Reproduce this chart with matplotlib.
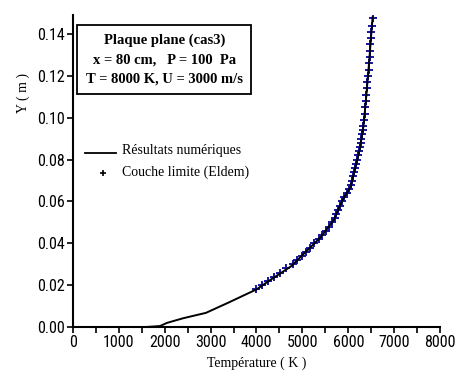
import matplotlib
matplotlib.use("Agg")
import matplotlib.pyplot as plt
from matplotlib.ticker import MultipleLocator

# Numerical results (black line)
num_T = [1574, 1900, 2050, 2400, 2900, 3400, 4000, 4300, 4750, 5100, 5400,
         5680, 5870, 6050, 6150, 6250, 6330, 6390, 6455, 6500, 6530]
num_Y = [0.0, 0.0005, 0.002, 0.0042, 0.0068, 0.0118, 0.018, 0.0225, 0.029,
         0.0365, 0.043, 0.051, 0.0605, 0.067, 0.076, 0.085, 0.096, 0.110,
         0.127, 0.140, 0.148]

# Boundary layer (Eldem) points
eld_T = [4000, 4120, 4250, 4380, 4520, 4650, 4800, 4890, 4985, 5075, 5160,
         5260, 5355, 5435, 5505, 5575, 5645, 5700, 5740, 5780, 5820, 5860,
         5905, 5965, 6020, 6065, 6085, 6105, 6130, 6150, 6172, 6195, 6217,
         6240, 6260, 6275, 6287, 6300, 6316, 6330, 6343, 6356, 6369, 6381,
         6394, 6405, 6417, 6428, 6440, 6451, 6462, 6472, 6483, 6493, 6503,
         6515, 6530]
eld_Y = [0.018, 0.020, 0.022, 0.024, 0.026, 0.028, 0.030, 0.032, 0.034,
         0.036, 0.038, 0.040, 0.042, 0.044, 0.046, 0.048, 0.050, 0.052,
         0.054, 0.056, 0.058, 0.060, 0.062, 0.064, 0.066, 0.068, 0.070,
         0.072, 0.074, 0.076, 0.078, 0.080, 0.082, 0.084, 0.086, 0.088,
         0.090, 0.092, 0.094, 0.096, 0.099, 0.102, 0.105, 0.108, 0.111,
         0.114, 0.117, 0.120, 0.123, 0.126, 0.129, 0.132, 0.135, 0.138,
         0.141, 0.144, 0.1475]

x_ticks = [0, 1000, 2000, 3000, 4000, 5000, 6000, 7000, 8000]
y_ticks = [0.00, 0.02, 0.04, 0.06, 0.08, 0.10, 0.12, 0.14]

serif = ['Liberation Serif', 'DejaVu Serif']
narrow = ['Roboto Condensed', 'Liberation Sans Narrow', 'Roboto']

fig = plt.figure(figsize=(4.58, 3.79), dpi=100)
ax = fig.add_axes([0.159, 0.137, 0.802, 0.823])

ax.plot(eld_T, eld_Y, linestyle='none', marker='+', markersize=6,
        markeredgewidth=1.4, color='#1414a0', zorder=2)
ax.plot(num_T, num_Y, color='black', linewidth=1.4, zorder=3)

ax.set_xlim(0, 8000)
ax.set_ylim(0, 0.149)
ax.set_xticks(x_ticks)
ax.set_yticks(y_ticks)
ax.xaxis.set_minor_locator(MultipleLocator(500))
ax.set_xticklabels([str(v) for v in x_ticks], family=narrow, fontsize=11.5)
ax.set_yticklabels([f"{v:.2f}" for v in y_ticks], family=narrow, fontsize=11.5)
ax.tick_params(axis='both', which='both', direction='out', length=4, width=1.2, pad=1.5)

for s in ['top', 'right']:
    ax.spines[s].set_visible(False)
for s in ['left', 'bottom']:
    ax.spines[s].set_linewidth(1.5)

ax.set_xlabel('Température ( K )', family=serif, fontsize=10, labelpad=5)
fig.text(23/458, 1-93/379, 'Y ( m )', family=serif, fontsize=10, rotation=90,
         ha='center', va='center')

ax.text(0.249, 0.857, 'Plaque plane (cas3)\nx = 80 cm,   P = 100  Pa\nT = 8000 K, U = 3000 m/s',
        transform=ax.transAxes, ha='center', va='center', family=serif,
        fontweight='bold', fontsize=10.5, linespacing=1.65,
        bbox=dict(boxstyle='square,pad=0.58', facecolor='white', edgecolor='black', linewidth=1.3))

# Legend drawn manually as entries
fig.lines.append(plt.Line2D([85/458, 116/458], [1-153/379, 1-153/379],
                            transform=fig.transFigure, color='black', linewidth=1.3))
fig.text(122/458, 1-151/379, 'Résultats numériques', family=serif, fontsize=10,
         va='center', ha='left')
fig.lines.append(plt.Line2D([103/458], [1-173/379], transform=fig.transFigure,
                            marker='+', markersize=4.5, markeredgewidth=1.2,
                            color='black', linestyle='none'))
fig.text(122/458, 1-172/379, 'Couche limite (Eldem)', family=serif, fontsize=10,
         va='center', ha='left')

fig.savefig('out.png', dpi=100)
